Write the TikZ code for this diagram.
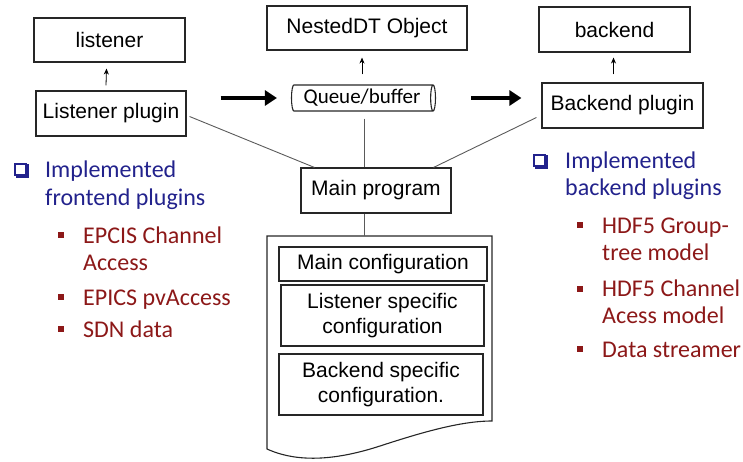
\documentclass[tikz,border=0pt]{standalone}
\usepackage{fontspec}
\newfontfamily\arialfont{Liberation Sans}
\newfontfamily\calfont{Carlito}
\usetikzlibrary{arrows.meta,shapes.geometric}

\definecolor{headblue}{RGB}{34,34,140}
\definecolor{itemred}{RGB}{140,24,24}
\definecolor{linegray}{RGB}{90,90,90}

\tikzset{
    box/.style={draw=black!85, line width=1.1, fill=white, inner sep=0,
        font=\arialfont\fontsize{21}{25}\selectfont, align=center},
    smallarrow/.style={-{Stealth[length=6,width=5]}, line width=0.8},
    thickarrow/.style={-{Triangle[length=12,width=15]}, line width=4.5},
    wire/.style={linegray, line width=0.9},
    headtext/.style={inner sep=0, anchor=base west, align=left, text=headblue,
        font=\calfont\fontsize{24}{27.5}\selectfont},
    itemtext/.style={inner sep=0, anchor=base west, align=left, text=itemred,
        font=\calfont\fontsize{24}{27}\selectfont}
}

\begin{document}
\begin{tikzpicture}[x=1pt,y=-1pt]
    \useasboundingbox (0,0) rectangle (743,462);

    % plugin column boxes
    \node[box, minimum width=151, minimum height=44] (listener) at (109.5,40) {listener};
    \node[box, minimum width=150, minimum height=45] (lplugin) at (111,113.5) {Listener plugin};
    \node[box, minimum width=200, minimum height=44] (nested) at (367,28) {NestedDT Object};
    \node[box, minimum width=151, minimum height=45] (backend) at (614.5,29.5) {backend};
    \node[box, minimum width=161, minimum height=45] (bplugin) at (622.5,105.5) {Backend plugin};

    % the queue in the middle
    \node[cylinder, draw=black!85, line width=1.1, aspect=0.28, inner sep=0,
        minimum width=26, minimum height=144, font=\calfont\fontsize{21}{25}\selectfont]
        (queue) at (362,98) {Queue/buffer};

    \node[box, minimum width=150, minimum height=45] (main) at (376,190.5) {Main program};

    % configuration document
    \draw[black!85, line width=1.1] (267,236) -- (492,236) -- (492,421)
        .. controls (460,421) and (420,433) .. (380,446)
        .. controls (340,459) and (300,464) .. (267,449) -- cycle;
    \coordinate (doctop) at (364,236);

    \node[box, minimum width=208, minimum height=34] (maincfg) at (383,264) {Main configuration};
    \node[box, minimum width=203, minimum height=61] (lcfg) at (382.5,315.5) {Listener specific\\configuration};
    \node[box, minimum width=204, minimum height=61] (bcfg) at (381,384.5) {Backend specific\\configuration.};

    % connectors
    \draw[smallarrow] ([xshift=-5,yshift=5]lplugin.north) -- ([xshift=-3,yshift=-6]listener.south);
    \draw[smallarrow] ([yshift=10]queue.center |- queue.north) -- ([yshift=-7]queue.center |- nested.south);
    \draw[smallarrow] ([xshift=-9,yshift=8]bplugin.north) -- ([xshift=-1,yshift=-5]backend.south);

    \draw[thickarrow] ([xshift=34]lplugin.east |- queue.west) -- ([xshift=-14]queue.west);
    \draw[thickarrow] ([xshift=35]queue.east) -- ([xshift=-20]queue.east -| bplugin.west);

    \draw[wire] ([xshift=3,yshift=-3]lplugin.east) -- ([xshift=14]main.north west);
    \draw[wire] ([xshift=-5,yshift=-12]bplugin.west) -- ([xshift=-18]main.north east);
    \draw[wire] ([xshift=2,yshift=-7]queue.center |- queue.south) -- ([xshift=2]queue.center |- main.north);
    \draw[wire] (main.south -| doctop) -- (doctop);

    % plugin lists
    \node[headtext] (fehead) at (45,205) {Implemented\\frontend plugins};
    \node[itemtext] (fe1) at (83,270) {EPCIS Channel\\Access};
    \node[itemtext] (fe2) at (83,305) {EPICS pvAccess};
    \node[itemtext] (fe3) at (83,337) {SDN data};

    \node[headtext] (behead) at (565,196) {Implemented\\backend plugins};
    \node[itemtext] (be1) at (602,260) {HDF5 Group-\\tree model};
    \node[itemtext] (be2) at (602,323) {HDF5 Channel\\Acess model};
    \node[itemtext] (be3) at (602,357) {Data streamer};

    % bullets
    \foreach \x/\y in {21/170, 540/161} {
        \draw[headblue, line width=2.2] (\x-4,\y-5) -- (\x+7,\y-5) -- (\x+7,\y+7) -- (\x-5,\y+7);
        \draw[headblue, line width=1.1, fill=white] (\x-6,\y-6) rectangle (\x+5,\y+5);
    }
    \foreach \x/\y in {61/235, 61/297, 61/329, 580/225, 580/289, 580/349}
        \fill[itemred] (\x-3,\y-3) rectangle (\x+3,\y+3);
\end{tikzpicture}
\end{document}
